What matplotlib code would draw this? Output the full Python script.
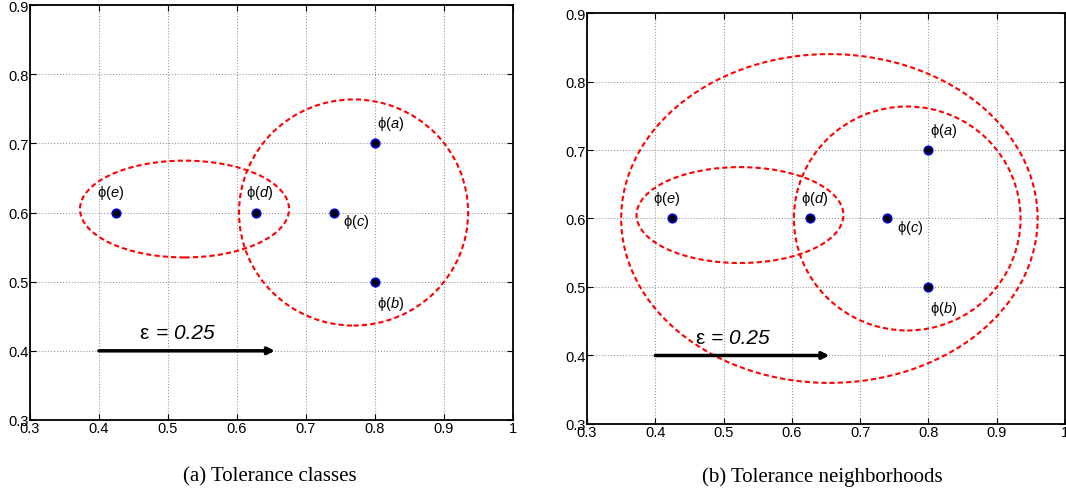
import matplotlib.pyplot as plt
from matplotlib.patches import Ellipse

plt.rcParams['font.family'] = 'Liberation Sans'
plt.rcParams['mathtext.fontset'] = 'custom'
plt.rcParams['mathtext.rm'] = 'Liberation Sans'
plt.rcParams['mathtext.it'] = 'Liberation Sans:italic'

# points phi(x)
names = ['a', 'b', 'c', 'd', 'e']
px = [0.8, 0.8, 0.74, 0.627, 0.425]
py = [0.7, 0.5, 0.6, 0.6, 0.6]
# label positions
lx = [0.803, 0.803, 0.754, 0.613, 0.397]
ly = [0.729, 0.469, 0.588, 0.63, 0.63]

# tolerance classes (center x, center y, width, height)
cls_cx = [0.524, 0.769]
cls_cy = [0.605, 0.6]
cls_w = [0.303, 0.332]
cls_h = [0.14, 0.327]
# extra neighborhood
nb_cx = [0.655]
nb_cy = [0.6]
nb_w = [0.61]
nb_h = [0.48]

eps = 0.25
arrow_start = (0.4, 0.4)

xticks = [0.3, 0.4, 0.5, 0.6, 0.7, 0.8, 0.9, 1]
yticks = [0.3, 0.4, 0.5, 0.6, 0.7, 0.8, 0.9]
captions = ['(a) Tolerance classes', '(b) Tolerance neighborhoods']


def draw_panel(ax, ecx, ecy, ew, eh):
    ax.set_xlim(0.3, 1.0)
    ax.set_ylim(0.3, 0.9)
    ax.set_xticks(xticks)
    ax.set_xticklabels(['0.3', '0.4', '0.5', '0.6', '0.7', '0.8', '0.9', '1'])
    ax.set_yticks(yticks)
    ax.set_yticklabels(['%.1f' % v for v in yticks])
    ax.grid(True, linestyle=':', color='#999999', linewidth=0.8)
    ax.tick_params(direction='in', length=4, top=True, right=True,
                   labelsize=10.5, pad=1)
    for s in ax.spines.values():
        s.set_linewidth(1.3)
    for i in range(len(ecx)):
        ax.add_patch(Ellipse((ecx[i], ecy[i]), ew[i], eh[i], fill=False,
                             edgecolor='red', linestyle=(0, (2.5, 1.5)),
                             linewidth=1.5, zorder=3))
    ax.annotate('', xy=(arrow_start[0] + eps + 0.005, arrow_start[1]),
                xytext=arrow_start,
                arrowprops=dict(arrowstyle='-|>', color='black', lw=2.5,
                                mutation_scale=10, shrinkA=0, shrinkB=0),
                zorder=4)
    ax.text(0.458, 0.427, 'ε', fontsize=15, va='center')
    ax.text(0.482, 0.427, '= %.2f' % eps, fontsize=15, style='italic',
            va='center')
    ax.scatter(px, py, s=40, c='black', edgecolors='blue', linewidths=1,
               zorder=5)
    for n, x, y in zip(names, lx, ly):
        ax.text(x, y, 'ϕ$\\mathit{(' + n + ')}$', fontsize=10.5, va='center')


fig = plt.figure(figsize=(10.66, 5.02), dpi=100)
ax1 = fig.add_axes([0.0281, 0.1614, 0.4531, 0.8266])
ax2 = fig.add_axes([0.5507, 0.1534, 0.4483, 0.8187])

draw_panel(ax1, cls_cx, cls_cy, cls_w, cls_h)
draw_panel(ax2, cls_cx + nb_cx, cls_cy + nb_cy, cls_w + nb_w, cls_h + nb_h)

fig.text(0.253, 0.04, captions[0], fontsize=15, family='Liberation Serif',
         ha='center')
fig.text(0.771, 0.04, captions[1], fontsize=15, family='Liberation Serif',
         ha='center')

fig.savefig('out.png', dpi=100)
